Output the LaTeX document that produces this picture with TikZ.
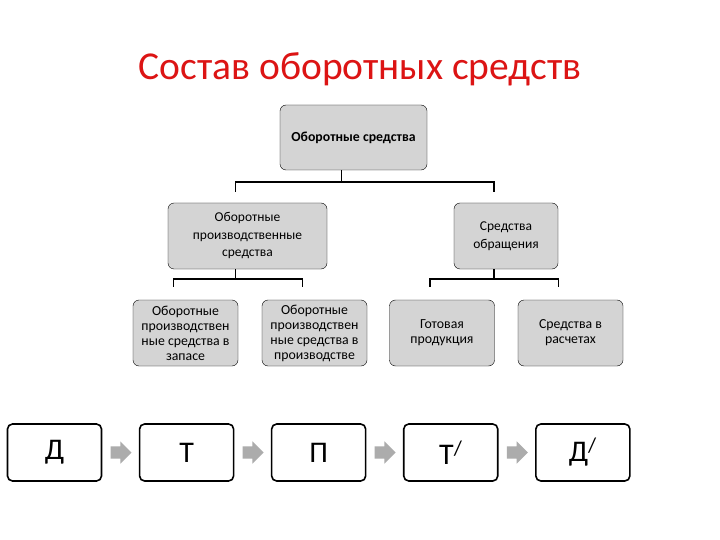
\documentclass[tikz,border=0pt]{standalone}
\usepackage{fontspec}
\setmainfont{Carlito}
\usetikzlibrary{positioning, shapes.arrows}
\definecolor{titlered}{RGB}{220, 20, 20}
\definecolor{boxgray}{RGB}{212, 212, 212}
\definecolor{arrowgray}{RGB}{172, 172, 172}

\begin{document}
\begin{tikzpicture}[
  x=1pt, y=-1pt,
  every node/.style={font=\fontsize{13.8}{15}\selectfont},
  graybox/.style={
    rectangle, rounded corners=6pt,
    draw=black, fill=boxgray, thin,
    align=center, inner sep=2pt
  },
  letterbox/.style={
    rectangle, rounded corners=5pt,
    draw=black, fill=white, line width=1.6pt,
    minimum width=94pt, minimum height=57pt,
    font=\fontsize{30}{30}\selectfont
  },
  flowarrow/.style={
    single arrow, fill=arrowgray, draw=none,
    inner xsep=0pt, inner ysep=6pt, minimum height=21pt,
    single arrow head extend=5pt
  },
  link/.style={line width=1.6pt, draw=black}
]

\fill[white] (0,0) rectangle (720,540);

\node[text=titlered, font=\fontsize{39.5}{40}\selectfont, anchor=base]
  (title) at (360,80) {Состав оборотных средств};

% Tree
\node[graybox, minimum width=147pt, minimum height=65pt,
      font=\bfseries\fontsize{13.8}{15}\selectfont]
  (oborot) at (353.5,137.5) {Оборотные средства};

\node[graybox, minimum width=159pt, minimum height=66pt,
      font=\fontsize{13.5}{17.5}\selectfont]
  (proizv) at (247.5,236) {Оборотные\\производственные\\средства};
\node[graybox, minimum width=104pt, minimum height=66pt,
      font=\fontsize{13.5}{17.5}\selectfont]
  (obrash) at (506,236) {Средства\\обращения};

\node[graybox, minimum width=105pt, minimum height=66pt]
  (zapas) at (185.5,333) {Оборотные\\производствен\\ные средства в\\запасе};
\node[graybox, minimum width=105pt, minimum height=66pt]
  (vproizv) at (314.5,333) {Оборотные\\производствен\\ные средства в\\производстве};
\node[graybox, minimum width=105pt, minimum height=66pt]
  (gotov) at (442,333) {Готовая\\продукция};
\node[graybox, minimum width=105pt, minimum height=66pt]
  (raschet) at (570.5,333) {Средства в\\расчетах};

\draw[link] ([xshift=-12pt]oborot.south) -- ++(0,12)
  -| ([xshift=-12pt, yshift=11pt]proizv.north);
\draw[link] ([xshift=-12pt]oborot.south) -- ++(0,12)
  -| ([xshift=-12pt, yshift=11pt]obrash.north);
\draw[link] ([xshift=-12pt]proizv.south) -- ++(0,10)
  -| ([xshift=-12pt, yshift=13pt]zapas.north);
\draw[link] ([xshift=-12pt]proizv.south) -- ++(0,10)
  -| ([xshift=-12pt, yshift=13pt]vproizv.north);
\draw[link] ([xshift=-12pt]obrash.south) -- ++(0,10)
  -| ([xshift=-12pt, yshift=13pt]gotov.north);
\draw[link] ([xshift=-12pt]obrash.south) -- ++(0,10)
  -| ([xshift=-12pt, yshift=13pt]raschet.north);

% Money circuit
\node[letterbox] (d1) at (54.5,452.5) {Д};
\node[flowarrow, right=8pt of d1] (ar1) {};
\node[letterbox, right=7pt of ar1] (t1) {Т};
\node[flowarrow, right=8pt of t1] (ar2) {};
\node[letterbox, right=7pt of ar2] (p1) {П};
\node[flowarrow, right=8pt of p1] (ar3) {};
\node[letterbox, right=7pt of ar3] (t2) {Т\textsuperscript{/}};
\node[flowarrow, right=8pt of t2] (ar4) {};
\node[letterbox, right=7pt of ar4] (d2) {Д\textsuperscript{/}};

\end{tikzpicture}
\end{document}
